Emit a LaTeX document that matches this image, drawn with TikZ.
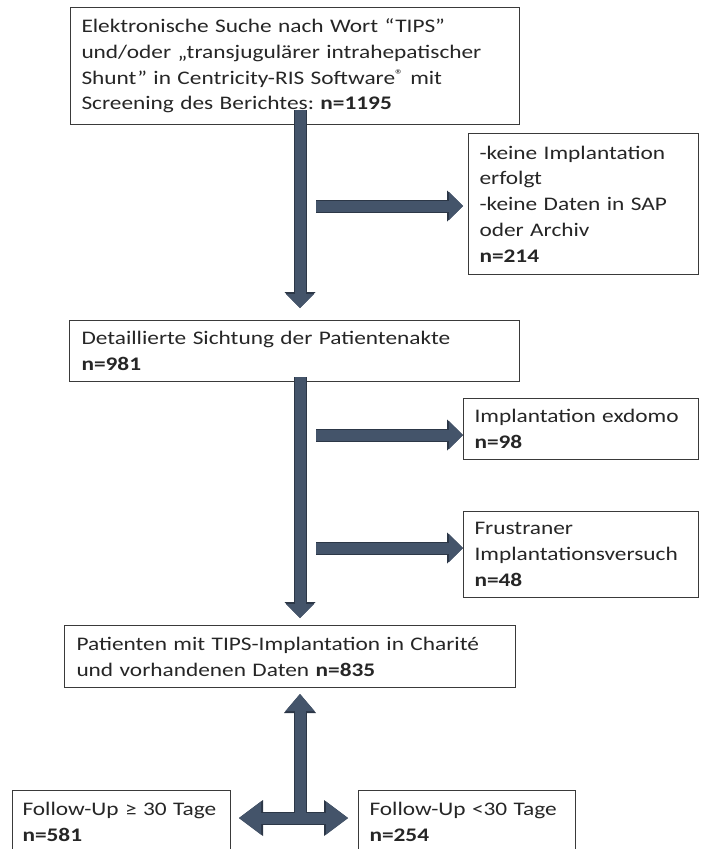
\documentclass[tikz,border=0pt]{standalone}
\usepackage{fontspec}
\setmainfont{Carlito}[FakeStretch=1.215]
\usepackage{xcolor}
\usepackage{tikz}
\usetikzlibrary{
    positioning,
    arrows.meta,
    calc
}
\frenchspacing
\definecolor{arrowbody}{HTML}{44546A}
\definecolor{arrowedge}{HTML}{2C3747}
\definecolor{boxline}{HTML}{3A3A3A}
\tikzset{
    flowbox/.style={
        rectangle, draw=boxline, line width=1pt, fill=white,
        anchor=north west, align=left,
        inner xsep=11pt, inner ysep=0pt,
        font=\fontsize{19.2}{25.8}\selectfont, text=black!85
    },
    fatarrow/.style={
        line width=11pt, draw=arrowbody,
        -{Triangle[width=28pt,length=14pt,line width=0pt]},
        preaction={draw=arrowedge, line width=13pt,
            -{Triangle[width=31pt,length=16pt,line width=0pt]}}
    },
    tedge/.style={
        line width=13pt, draw=arrowedge
    },
    tbody/.style={
        line width=11pt, draw=arrowbody
    }
}
\newcommand{\regmark}{{\fontsize{14}{14}\selectfont\raisebox{5pt}{®}}}

\begin{document}
\begin{tikzpicture}[
        x=1pt, y=-1pt,
        edgetip/.style={-{Triangle[width=32pt,length=19pt,line width=0pt]}},
        bodytip/.style={-{Triangle[width=29pt,length=17pt,line width=0pt]}},
        edgetips/.style={{Triangle[width=36pt,length=24pt,line width=0pt]}-{Triangle[width=36pt,length=24pt,line width=0pt]}},
        bodytips/.style={{Triangle[width=33pt,length=22pt,line width=0pt]}-{Triangle[width=33pt,length=22pt,line width=0pt]}}
    ]

        \useasboundingbox (0,0) rectangle (702,849);
        \clip (0,0) rectangle (702,849);

        % Search
        \node[flowbox, text width=427pt, minimum height=117pt] (search) at (70,7)
            {Elektronische Suche nach Wort “TIPS”\\
             und/oder „transjugulärer intrahepatischer\\
             Shunt” in Centricity-RIS Software\regmark{} mit\\
             Screening des Berichtes: \textbf{n=1195}};
        \node[flowbox, text width=208pt, minimum height=141pt] (noimpl) at (468,133)
            {-keine Implantation\\ erfolgt\\ -keine Daten in SAP\\ oder Archiv\\ \textbf{n=214}};

        % Records
        \node[flowbox, inner xsep=12pt, text width=426pt, minimum height=61pt] (detail) at (69,320)
            {Detaillierte Sichtung der Patientenakte\\ \textbf{n=981}};
        \node[flowbox, inner xsep=11pt, text width=213pt, minimum height=61pt] (exdomo) at (463,398)
            {Implantation exdomo\\ \textbf{n=98}};
        \node[flowbox, inner xsep=11pt, text width=213pt, minimum height=86pt] (frust) at (463,511)
            {Frustraner\\ \mbox{Implantationsversuch}\\ \textbf{n=48}};

        % Result
        \node[flowbox, inner xsep=12pt, text width=427pt, minimum height=62pt] (result) at (64,625)
            {Patienten mit TIPS-Implantation in Charité\\ und vorhandenen Daten \textbf{n=835}};

        % Follow-up
        \node[flowbox, inner xsep=10pt, text width=198pt, minimum height=62pt] (fu30) at (12,790)
            {\mbox{Follow-Up ≥ 30 Tage}\\ \textbf{n=581}};
        \node[flowbox, inner xsep=11pt, text width=195pt, minimum height=62pt] (fu0) at (358,790)
            {\mbox{Follow-Up <30 Tage}\\ \textbf{n=254}};

        % Arrows
        \coordinate (s1) at (300,110);
        \coordinate (b1) at (316,206);
        \coordinate (s2) at (300,377);
        \coordinate (b2) at (316,435);
        \coordinate (b3) at (316,548);
        \coordinate (fork) at (300,818);

        \draw[fatarrow, shorten >=12pt] (s1) -- (s1 |- detail.north);
        \draw[fatarrow, shorten >=5pt] (b1) -- (b1 -| noimpl.west);
        \draw[fatarrow, shorten >=7pt] (s2) -- (s2 |- result.north);
        \draw[fatarrow] (b2) -- (b2 -| exdomo.west);
        \draw[fatarrow] (b3) -- (b3 -| frust.west);

        \draw[tedge, edgetip, shorten >=6pt] (fork) -- (fork |- result.south);
        \draw[tedge, edgetips, shorten <=8pt, shorten >=10pt] (fork -| fu30.east) -- (fork -| fu0.west);
        \draw[tbody, bodytip, shorten >=6pt] (fork) -- (fork |- result.south);
        \draw[tbody, bodytips, shorten <=8pt, shorten >=10pt] (fork -| fu30.east) -- (fork -| fu0.west);

    \end{tikzpicture}
\end{document}
